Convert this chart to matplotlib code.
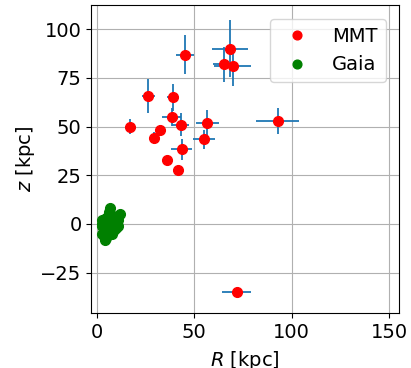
import numpy as np
import matplotlib
matplotlib.use('Agg')
import matplotlib.pyplot as plt

# MMT halo stars: galactocentric R, z and their uncertainties (kpc)
mmt_R = [45.4, 68.3, 65.4, 69.7, 26.4, 38.9, 38.4, 43.0, 17.2, 56.8,
         92.7, 32.6, 29.5, 55.0, 43.5, 36.2, 41.5, 71.7]
mmt_z = [86.9, 90.0, 82.0, 81.1, 65.7, 65.0, 54.8, 51.0, 50.0, 51.9,
         53.1, 48.0, 44.0, 43.4, 38.3, 33.0, 27.7, -35.2]
mmt_R_err = [4.7, 9.3, 6.0, 9.6, 3.4, 3.0, 4.7, 4.5, 2.0, 6.0,
             11.0, 2.0, 2.0, 5.5, 5.5, 1.5, 2.0, 7.2]
mmt_z_err = [10.0, 14.5, 9.0, 10.4, 8.5, 7.0, 4.5, 6.0, 4.0, 6.4,
             6.7, 3.0, 3.0, 5.0, 5.5, 1.5, 1.5, 2.0]

# Gaia nearby sample
gaia_R = [7.0, 6.5, 12.0, 10.5, 9.0, 8.0, 11.0, 3.0, 4.0, 5.0,
          7.0, 9.0, 11.0, 3.0, 5.0, 7.0, 9.0, 4.0, 6.0, 8.0,
          3.0, 5.0, 4.0, 6.0, 10.0, 2.5, 5.0, 8.0, 4.5, 6.0]
gaia_z = [8.0, 6.0, 5.0, 4.0, 3.0, 2.0, 2.0, 2.0, 1.0, 0.5,
          0.0, 0.0, -1.0, -1.0, -2.0, -2.0, -3.0, -4.0, -4.0, -5.0,
          -5.0, -7.0, -6.0, -1.0, -2.0, 0.0, 3.0, -1.0, -8.0, 3.5]

fs = 14

fig = plt.figure(figsize=(4.11, 3.68), dpi=100)
ax = fig.add_axes([0.222, 0.1486, 0.7494, 0.837])

ax.errorbar(mmt_R, mmt_z, xerr=mmt_R_err, yerr=mmt_z_err, fmt='none',
            ecolor='C0', elinewidth=1.3, zorder=2)
ax.plot(mmt_R, mmt_z, 'o', color='red', ms=7, label='MMT', zorder=3)
ax.plot(gaia_R, gaia_z, 'o', color='green', ms=7, label='Gaia', zorder=3)

ax.set_xlim(-2.77, 155.1)
ax.set_ylim(-45.9, 112.3)
ax.set_xticks([0, 50, 100, 150])
ax.set_yticks([-25, 0, 25, 50, 75, 100])
ax.tick_params(labelsize=fs)
ax.set_xlabel('$R$ [kpc]', fontsize=fs, labelpad=5)
ax.set_ylabel('$z$ [kpc]', fontsize=fs, labelpad=2)
ax.grid(True)
ax.legend(loc='upper right', fontsize=fs, markerscale=0.9, borderaxespad=0.7)

fig.savefig('out.png', dpi=100)
